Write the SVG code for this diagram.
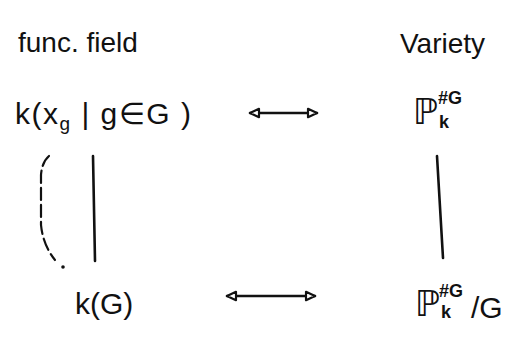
<svg xmlns="http://www.w3.org/2000/svg" width="505" height="338" viewBox="0 0 505 338">
<style>
text{font-family:"Liberation Sans","DejaVu Sans",sans-serif;fill:#111}
.h{font-size:28px}
.n{font-size:30px}
.p{font-size:36px}
.s{font-size:18px;font-weight:bold}
.sg{font-size:19px}
.line{stroke:#111;stroke-width:2.6;fill:none;stroke-linecap:round}
.dash{stroke:#111;stroke-width:2.2;fill:none;stroke-dasharray:12 5;stroke-linecap:round}
</style>
<defs>
<marker id="ah" viewBox="0 0 10 10" refX="9" refY="5" markerWidth="12" markerHeight="12" markerUnits="userSpaceOnUse" orient="auto-start-reverse">
<path d="M1.5,1.5 L9,5 L1.5,8.5 Z" fill="#fff" stroke="#111" stroke-width="1.8" stroke-linejoin="round"/>
</marker>
</defs>
<rect width="505" height="338" fill="#fff"/>
<g id="hdr-field"><text class="h" x="18" y="52">func. field</text></g>
<g id="hdr-variety"><text class="h" x="400" y="53">Variety</text></g>
<g id="n-kx"><text class="n" x="15" y="124" letter-spacing="1.5">k(x<tspan class="sg" dy="6">g</tspan><tspan dy="-6"> | g∈G )</tspan></text></g>
<g id="n-p"><text class="p" x="413" y="124">ℙ</text><text class="s" x="438" y="104">#G</text><text class="s" x="439" y="128">k</text></g>
<g id="n-kg"><text class="n" x="75" y="314">k(G)</text></g>
<g id="n-pg"><text class="p" x="415" y="316">ℙ</text><text class="s" x="439" y="297">#G</text><text class="s" x="441" y="318">k</text><text class="n" x="471" y="318" font-size="36">/G</text></g>
<g id="connectors">
<line class="line" x1="250" y1="113" x2="317" y2="113" marker-start="url(#ah)" marker-end="url(#ah)"/>
<line class="line" x1="227" y1="296" x2="315" y2="296" marker-start="url(#ah)" marker-end="url(#ah)"/>
<line class="line" x1="93" y1="156" x2="95" y2="261"/>
<line class="line" x1="437" y1="156" x2="443" y2="258"/>
<path class="dash" d="M49,156 Q42,162 41,175 L41,225 Q43,245 55,260"/>
<circle cx="63" cy="267" r="1.8" fill="#111"/>
</g>
</svg>
